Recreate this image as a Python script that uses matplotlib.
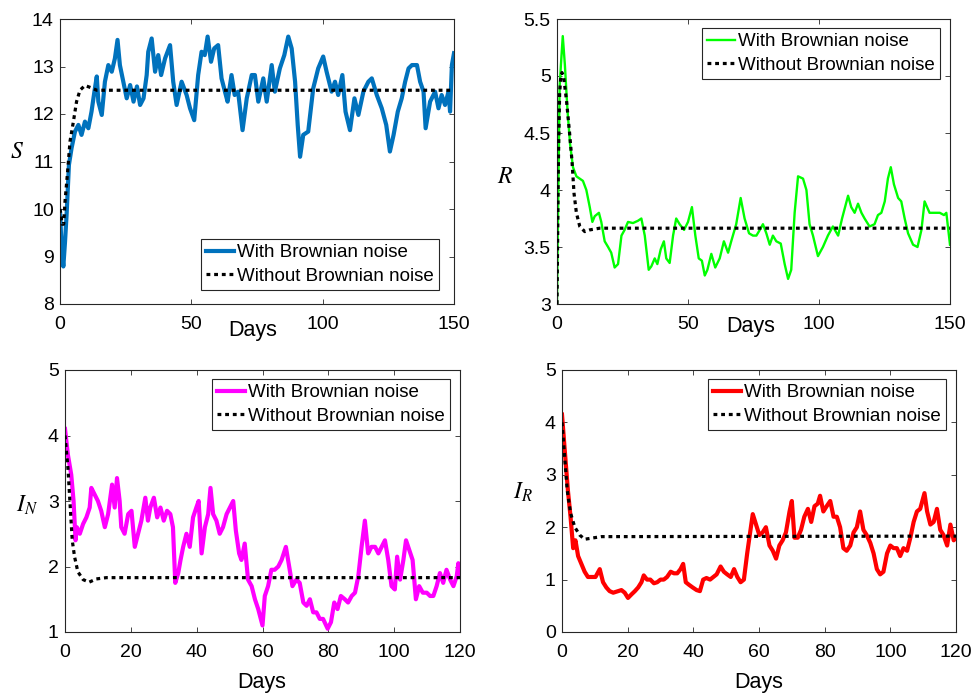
import matplotlib
matplotlib.use("Agg")
import matplotlib.pyplot as plt

plt.rcParams['font.family'] = ['Liberation Sans', 'DejaVu Sans']
plt.rcParams['mathtext.fontset'] = 'stix'

# ---------------- data ----------------
legend_labels = ["With Brownian noise", "Without Brownian noise"]

# S panel
s_t = [0, 0.6, 1.27, 1.9, 2.5, 3.4, 4.4, 5.7, 7.0, 8.2, 9.5, 10.8, 12.0, 13.1, 14.0, 14.6,
       15.9, 17.1, 18.4, 19.7, 20.9, 21.9, 22.8, 24.1, 25.4, 26.7, 28.0, 29.3, 30.5, 31.8,
       33.0, 33.6, 34.9, 36.2, 37.4, 38.5, 40.0, 41.9, 43.1, 44.4, 46.3, 48.2, 49.5, 51.1,
       52.6, 53.9, 55.1, 56.2, 57.5, 58.7, 60.2, 61.5, 62.8, 63.8, 65.3, 66.5, 67.8, 69.5,
       71.1, 73.0, 74.2, 75.5, 77.4, 78.7, 80.6, 81.8, 83.7, 85.4, 86.9, 88.2, 89.5, 90.5,
       91.4, 92.6, 94.5, 96.4, 98.3, 100.2, 101.5, 103.4, 104.7, 105.9, 107.5, 108.7, 110.4,
       112.1, 113.6, 115.5, 117.4, 118.7, 120.6, 122.5, 124.2, 125.6, 127.0, 128.6, 130.1,
       131.4, 132.7, 134.0, 135.9, 137.1, 138.4, 139.2, 140.9, 142.8, 144.1, 145.3, 146.6,
       147.9, 148.5, 149.2, 150.0]
s_noise = [9.94, 9.2, 8.79, 9.3, 9.87, 10.93, 11.28, 11.63, 11.77, 11.56, 11.84, 11.7, 12.05,
           12.47, 12.79, 12.26, 11.98, 12.68, 13.03, 12.89, 13.17, 13.56, 13.03, 12.68, 12.33,
           12.61, 12.26, 12.58, 12.19, 12.33, 12.82, 13.31, 13.59, 12.89, 13.24, 12.82, 13.17,
           13.45, 12.68, 12.19, 12.68, 12.40, 12.12, 11.87, 12.82, 13.31, 13.24, 13.63, 13.10,
           13.38, 13.45, 12.75, 12.47, 12.26, 12.82, 12.40, 12.47, 11.66, 12.33, 12.82, 12.82,
           12.26, 12.75, 12.26, 13.03, 12.47, 12.96, 13.24, 13.63, 13.38, 12.68, 11.77, 11.10,
           11.56, 11.63, 12.54, 12.96, 13.21, 12.89, 12.47, 12.68, 12.40, 12.82, 12.05, 11.66,
           12.33, 11.98, 12.47, 12.68, 12.75, 12.40, 12.12, 11.77, 11.21, 11.56, 12.05, 12.33,
           12.68, 12.96, 13.03, 13.03, 12.68, 12.47, 11.70, 12.26, 12.47, 12.12, 12.40, 12.19,
           12.47, 12.05, 13.03, 13.28]
s_det_t = [0, 0.4, 0.8, 1.4, 1.9, 2.9, 3.8, 5.1, 6.3, 7.6, 9.5, 12.0, 14.0, 150]
s_det = [10.0, 9.85, 9.68, 9.68, 10.15, 10.79, 11.42, 11.84, 12.26, 12.5, 12.6, 12.55, 12.5, 12.5]

# R panel
r_t = [0, 0.5, 1.0, 1.5, 2.2, 3.0, 4.0, 5.0, 6.1, 7.4, 9.9, 11.2, 12.5, 13.5, 14.4, 16.0,
       16.9, 18.2, 19.5, 20.7, 22.0, 23.3, 24.6, 25.8, 27.1, 29.0, 30.9, 32.2, 33.5, 35.0,
       36.0, 37.3, 38.3, 39.6, 40.8, 41.7, 43.0, 44.3, 45.5, 46.8, 48.5, 50.0, 51.5, 52.8,
       54.1, 55.3, 56.4, 57.4, 58.9, 60.4, 62.1, 63.7, 65.3, 66.5, 68.4, 70.1, 71.6, 73.3,
       74.8, 76.1, 77.4, 78.6, 79.9, 81.2, 82.4, 83.7, 85.4, 86.9, 88.2, 89.4, 90.7, 92.0,
       93.9, 95.2, 96.4, 97.7, 99.6, 101.5, 103.4, 105.3, 107.3, 108.8, 111.1, 112.3, 113.6,
       114.9, 116.2, 117.4, 119.3, 121.2, 122.5, 123.8, 125.1, 126.3, 127.4, 128.6, 130.2,
       131.4, 132.7, 134.0, 135.9, 137.6, 139.1, 140.3, 142.2, 144.1, 146.1, 147.7, 148.6, 150.0]
r_noise = [3.0, 4.0, 4.9, 5.1, 5.35, 5.1, 4.7, 4.4, 4.2, 4.12, 4.08, 4.0, 3.85, 3.72, 3.77, 3.8,
           3.72, 3.55, 3.5, 3.45, 3.32, 3.35, 3.6, 3.65, 3.72, 3.71, 3.73, 3.75, 3.6, 3.3,
           3.33, 3.4, 3.35, 3.48, 3.55, 3.4, 3.36, 3.6, 3.75, 3.7, 3.65, 3.72, 3.85, 3.6,
           3.4, 3.38, 3.25, 3.3, 3.44, 3.32, 3.4, 3.55, 3.45, 3.55, 3.7, 3.93, 3.75, 3.62,
           3.6, 3.6, 3.65, 3.7, 3.62, 3.52, 3.6, 3.55, 3.53, 3.35, 3.22, 3.3, 3.8, 4.12,
           4.1, 4.0, 3.7, 3.6, 3.42, 3.5, 3.6, 3.68, 3.6, 3.75, 3.95, 3.85, 3.8,
           3.88, 3.8, 3.75, 3.68, 3.7, 3.78, 3.8, 3.9, 4.1, 4.2, 4.05, 3.93,
           3.9, 3.75, 3.62, 3.52, 3.5, 3.65, 3.9, 3.8, 3.8, 3.8, 3.78, 3.8, 3.52]
r_det_t = [0, 0.5, 1.0, 1.5, 1.9, 2.5, 3.6, 4.8, 5.7, 6.5, 7.4, 8.7, 10.6, 12.5, 16.3, 150]
r_det = [3.0, 4.2, 4.85, 5.0, 5.03, 5.0, 4.79, 4.5, 4.26, 3.97, 3.8, 3.68, 3.635, 3.65, 3.665, 3.665]

# I_N panel
in_t = [0, 0.9, 1.9, 2.6, 3.2, 3.6, 4.5, 5.5, 6.5, 7.5, 8.0, 9.0, 10.0, 11.0, 12.1, 13.1,
        14.3, 15.1, 15.8, 16.6, 17.1, 18.1, 19.2, 20.2, 21.2, 22.2, 23.2, 24.4, 25.2, 25.9,
        27.0, 28.0, 29.0, 30.0, 31.0, 32.0, 32.8, 33.5, 34.4, 35.1, 35.9, 36.9, 37.9, 38.9,
        39.9, 40.6, 41.5, 42.5, 43.5, 44.2, 45.0, 46.0, 47.0, 48.0, 49.1, 50.1, 51.1, 51.9,
        52.9, 53.6, 54.6, 55.6, 56.7, 57.7, 58.7, 60.0, 60.7, 61.7, 62.7, 63.7, 64.8, 65.8,
        67.1, 68.1, 69.1, 70.3, 71.3, 72.4, 73.4, 74.4, 75.4, 76.4, 77.4, 78.4, 79.8, 80.8,
        81.8, 82.8, 83.8, 85.0, 86.0, 87.1, 88.1, 89.1, 90.1, 91.1, 92.1, 93.1, 94.2, 95.2,
        96.2, 97.2, 98.2, 99.2, 100.2, 100.9, 101.8, 102.8, 103.6, 104.6, 105.6, 106.6, 107.6,
        108.7, 109.9, 110.9, 111.9, 112.9, 113.9, 114.9, 115.9, 117.0, 118.0, 119.0, 119.5, 120.0]
in_noise = [4.1, 3.7, 3.4, 3.0, 2.4, 2.6, 2.5, 2.65, 2.75, 2.9, 3.2, 3.1, 3.0, 2.85, 2.6, 2.8,
            3.25, 2.9, 3.35, 3.0, 2.6, 2.5, 2.8, 2.85, 2.3, 2.5, 2.7, 3.05, 2.7, 2.9,
            3.05, 2.75, 2.9, 2.7, 2.85, 2.8, 2.6, 1.75, 1.9, 2.1, 2.3, 2.5, 2.3, 2.75,
            2.9, 3.0, 2.2, 2.6, 2.8, 3.2, 2.8, 2.7, 2.5, 2.6, 2.8, 2.9, 3.0, 2.55,
            2.2, 2.1, 2.35, 1.8, 1.7, 1.5, 1.35, 1.1, 1.55, 1.7, 1.95, 1.95, 2.0, 2.1,
            2.3, 2.0, 1.7, 1.8, 1.75, 1.45, 1.4, 1.5, 1.3, 1.3, 1.2, 1.2, 1.05, 1.15,
            1.45, 1.35, 1.55, 1.5, 1.45, 1.55, 1.6, 1.85, 2.3, 2.7, 2.2, 2.3, 2.3, 2.2,
            2.3, 2.4, 2.1, 1.7, 1.65, 2.15, 1.8, 2.1, 2.4, 2.25, 2.1, 1.5, 1.7,
            1.6, 1.6, 1.55, 1.55, 1.7, 1.9, 1.75, 1.95, 1.8, 1.7, 1.85, 2.05, 1.85]
in_det_t = [0, 0.9, 1.6, 2.2, 2.9, 3.9, 5.5, 7.3, 9.5, 12.6, 120]
in_det = [4.0, 3.5, 2.9, 2.4, 2.15, 1.92, 1.8, 1.76, 1.81, 1.83, 1.83]

# I_R panel
ir_t = [0, 0.8, 1.8, 2.6, 3.4, 4.1, 4.9, 5.9, 6.9, 7.9, 8.9, 10.2, 11.5, 12.5, 13.5, 14.5,
        15.6, 17.1, 18.1, 19.1, 20.1, 21.2, 22.2, 23.2, 24.2, 24.9, 25.9, 26.9, 28.0, 29.0,
        30.0, 31.0, 32.0, 33.1, 34.1, 35.1, 36.1, 36.9, 37.7, 38.7, 39.8, 41.0, 42.0, 43.0,
        44.0, 45.1, 46.1, 47.1, 48.3, 49.3, 50.3, 51.4, 52.4, 53.4, 54.4, 55.4, 56.4, 57.3,
        58.1, 59.1, 60.1, 61.1, 62.1, 63.2, 64.2, 65.2, 66.2, 67.2, 68.2, 69.3, 70.0, 70.8,
        71.8, 72.8, 73.8, 74.9, 75.9, 76.9, 77.9, 78.6, 79.6, 80.6, 81.7, 82.7, 83.7, 84.7,
        85.7, 86.7, 87.8, 88.8, 89.8, 90.8, 91.8, 92.8, 93.9, 94.9, 95.9, 96.9, 97.9, 99.0,
        100.0, 101.0, 102.0, 103.0, 104.0, 105.1, 106.1, 107.1, 108.1, 109.1, 110.4, 111.2,
        112.2, 113.2, 114.2, 115.2, 116.2, 117.3, 118.3, 119.3, 120.0]
ir_noise = [4.15, 3.5, 2.7, 2.2, 1.6, 1.75, 1.45, 1.3, 1.15, 1.05, 1.05, 1.05, 1.2, 0.95, 0.85, 0.78,
            0.75, 0.78, 0.8, 0.75, 0.65, 0.72, 0.78, 0.85, 0.95, 1.08, 1.0, 1.0, 0.93, 0.95,
            1.0, 1.0, 1.05, 1.15, 1.12, 1.12, 1.2, 1.3, 0.95, 0.9, 0.85, 0.8, 0.78, 1.0,
            1.03, 1.0, 1.05, 1.1, 1.25, 1.15, 1.1, 1.05, 1.2, 1.05, 0.95, 1.0, 1.5, 1.9,
            2.25, 2.05, 1.85, 1.9, 2.0, 1.65, 1.55, 1.4, 1.65, 1.75, 1.9, 2.3, 2.5, 1.8,
            1.8, 1.95, 2.2, 2.35, 2.1, 2.4, 2.45, 2.6, 2.3, 2.4, 2.5, 2.2, 2.2, 2.0,
            1.6, 1.55, 1.65, 1.9, 2.0, 2.3, 1.95, 1.85, 1.7, 1.5, 1.2, 1.1, 1.15, 1.5,
            1.65, 1.6, 1.6, 1.45, 1.6, 1.55, 1.8, 2.1, 2.3, 2.35, 2.65, 2.3,
            2.05, 2.1, 2.35, 1.95, 1.85, 1.65, 2.05, 1.75, 1.8]
ir_det_t = [0, 0.8, 1.6, 2.6, 3.9, 5.4, 6.9, 8.9, 12.0, 120]
ir_det = [4.0, 3.35, 2.7, 2.27, 2.0, 1.85, 1.77, 1.79, 1.82, 1.83]

# ---------------- figure ----------------
W, H = 971, 693
fig = plt.figure(figsize=(W / 100, H / 100), dpi=100)
fig.patch.set_facecolor('white')

def px_axes(l, t, r, b):
    return fig.add_axes([l / W, 1 - b / H, (r - l) / W, (b - t) / H])

axc = (0.15, 0.15, 0.15)

panels = [
    dict(box=(60, 19, 454, 304), t=s_t, y=s_noise, dt=s_det_t, dy=s_det, color='#0072BD', lw=3.0,
         xlim=(0, 150), xticks=[0, 50, 100, 150], ylim=(8, 14), yticks=[8, 9, 10, 11, 12, 13, 14],
         ylabel='$S$', ylab_xy=(-0.109, 0.533), xlab_xy=(0.4886, -0.057), legloc='lower right',
         legxy=(0.962, 0.049)),
    dict(box=(557, 19, 950, 304), t=r_t, y=r_noise, dt=r_det_t, dy=r_det, color='#00FF00', lw=1.7,
         xlim=(0, 150), xticks=[0, 50, 100, 150], ylim=(3, 5.5), yticks=[3, 3.5, 4, 4.5, 5, 5.5],
         ylabel='$R$', ylab_xy=(-0.132, 0.446), xlab_xy=(0.4924, -0.043), legloc='upper right',
         legxy=(0.9746, 0.968)),
    dict(box=(65, 370, 460, 632), t=in_t, y=in_noise, dt=in_det_t, dy=in_det, color='#FF00FF', lw=3.0,
         xlim=(0, 120), xticks=[0, 20, 40, 60, 80, 100, 120], ylim=(1, 5), yticks=[1, 2, 3, 4, 5],
         ylabel='$I_N$', ylab_xy=(-0.096, 0.485), xlab_xy=(0.4987, -0.1527), legloc='upper right',
         legxy=(0.9747, 0.9656)),
    dict(box=(562, 370, 956, 632), t=ir_t, y=ir_noise, dt=ir_det_t, dy=ir_det, color='#FF0000', lw=3.0,
         xlim=(0, 120), xticks=[0, 20, 40, 60, 80, 100, 120], ylim=(0, 5), yticks=[0, 1, 2, 3, 4, 5],
         ylabel='$I_R$', ylab_xy=(-0.099, 0.534), xlab_xy=(0.4987, -0.1527), legloc='upper right',
         legxy=(0.9746, 0.9656)),
]

for p in panels:
    ax = px_axes(*p['box'])
    ax.plot(p['t'], p['y'], color=p['color'], lw=p['lw'], solid_joinstyle='round',
            label=legend_labels[0], zorder=2)
    ax.plot(p['dt'], p['dy'], color='black', lw=2.3, linestyle=(0, (1.2, 1.2)),
            label=legend_labels[1], zorder=3)
    ax.set_xlim(*p['xlim'])
    ax.set_ylim(*p['ylim'])
    ax.set_xticks(p['xticks'])
    ax.set_yticks(p['yticks'])
    ax.set_yticklabels([('%g' % v) for v in p['yticks']])
    ax.tick_params(direction='in', top=True, right=True, length=3.5, width=0.6,
                   colors=axc, labelcolor='black', labelsize=14)
    ax.tick_params(axis='x', pad=8.5)
    ax.tick_params(axis='y', pad=4.5)
    for sp in ax.spines.values():
        sp.set_color(axc)
        sp.set_linewidth(0.8)

    ax.set_xlabel('Days', fontsize=15.5)
    ax.xaxis.set_label_coords(*p['xlab_xy'])

    ax.set_ylabel(p['ylabel'], fontsize=17, rotation=0)
    ax.yaxis.label.set_va('center')
    ax.yaxis.label.set_ha('center')
    ax.yaxis.set_label_coords(*p['ylab_xy'])

    leg = ax.legend(loc=p['legloc'], bbox_to_anchor=p['legxy'], borderaxespad=0,
                    fontsize=13.5, handlelength=1.5, handletextpad=0.16, labelspacing=0.35,
                    borderpad=0.27, fancybox=False, framealpha=1, edgecolor=axc)
    leg.get_frame().set_linewidth(0.8)

fig.savefig('out.png', dpi=100)
